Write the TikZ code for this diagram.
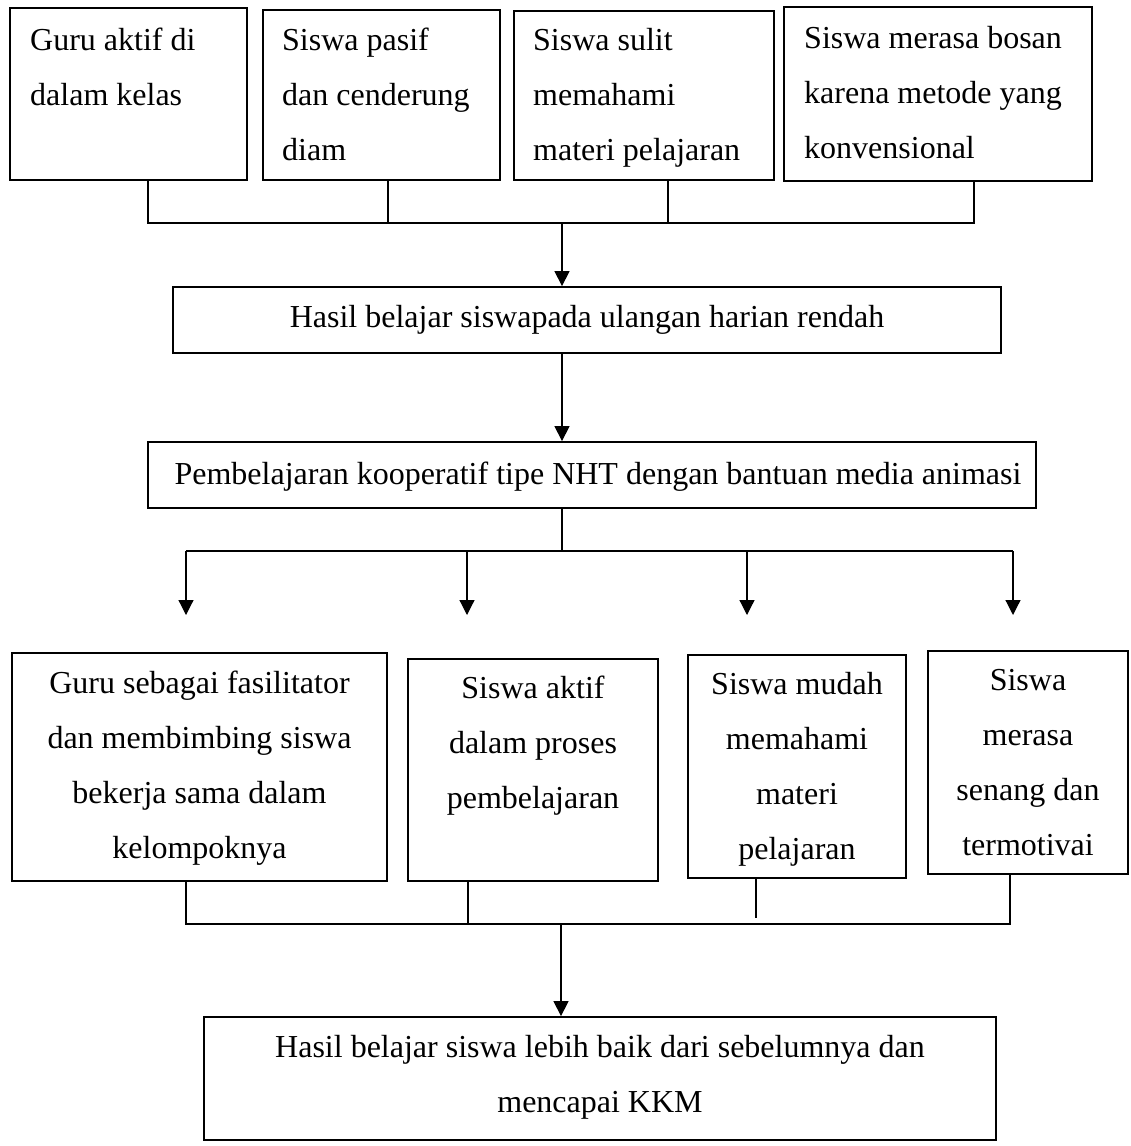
\documentclass[tikz,border=0pt]{standalone}
\usepackage{fontspec}
\setmainfont{Liberation Serif}
\usetikzlibrary{arrows.meta}
\newcommand{\Lft}[1]{\begin{tabular}[t]{@{}l@{}}#1\end{tabular}}
\newcommand{\Ctr}[1]{\begin{tabular}[t]{@{}c@{}}#1\end{tabular}}
\begin{document}
\begin{tikzpicture}[x=1pt,y=-1pt,
  box/.style={draw, line width=1.8pt, inner sep=0pt},
  txt/.style={inner sep=0pt, font=\fontsize{32}{55}\selectfont},
  conn/.style={line width=1.2pt},
  arr/.style={line width=1.2pt, -{Triangle[length=15pt,width=15pt]}}]
\useasboundingbox (0,0) rectangle (1130,1146);
% ---- top row
\node[box, minimum width=237, minimum height=172] (b1) at (128.5,94) {};
\node[box, minimum width=237, minimum height=170] (b2) at (381.5,95) {};
\node[box, minimum width=260, minimum height=169] (b3) at (644,95.5) {};
\node[box, minimum width=308, minimum height=174] (b4) at (938,94) {};
\node[txt, anchor=base west] (b1t) at (30,50) {\Lft{Guru aktif di\\dalam kelas}};
\node[txt, anchor=base west] (b2t) at (282,50) {\Lft{Siswa pasif\\dan cenderung\\diam}};
\node[txt, anchor=base west] (b3t) at (533,50) {\Lft{Siswa sulit\\memahami\\materi pelajaran}};
\node[txt, anchor=base west] (b4t) at (804,48) {\Lft{Siswa merasa bosan\\karena metode yang\\konvensional}};
\coordinate (c1) at (148,180);
\coordinate (c2) at (388,180);
\coordinate (c3) at (668,180);
\coordinate (c4) at (974,181);
\coordinate (h1) at (0,223);
\coordinate (j1) at (562,223);
\draw[conn] (c1) -- (c1 |- h1) -- (c4 |- h1) -- (c4);
\draw[conn] (c2) -- (c2 |- h1);
\draw[conn] (c3) -- (c3 |- h1);
% ---- middle
\node[box, minimum width=828, minimum height=66] (b5) at (587,320) {};
\node[txt, anchor=base] (b5t) at (587,327) {Hasil belajar siswapada ulangan harian rendah};
\draw[arr] (j1) -- (j1 |- b5.north);
\node[box, minimum width=888, minimum height=66] (b6) at (592,475) {};
\node[txt, anchor=base] (b6t) at (598,484) {Pembelajaran kooperatif tipe NHT dengan bantuan media animasi};
\draw[arr] (b5.south -| j1) -- (b6.north -| j1);
% ---- split
\coordinate (h2) at (0,551);
\coordinate (d1) at (186,551);
\coordinate (d2) at (467,551);
\coordinate (d3) at (747,551);
\coordinate (d4) at (1013,551);
\coordinate (t1) at (186,615);
\coordinate (t2) at (467,615);
\coordinate (t3) at (747,615);
\coordinate (t4) at (1013,615);
\draw[conn] (b6.south -| j1) -- (j1 |- h2);
\draw[conn] (d1) -- (d4);
\draw[arr] (d1) -- (t1);
\draw[arr] (d2) -- (t2);
\draw[arr] (d3) -- (t3);
\draw[arr] (d4) -- (t4);
% ---- bottom row
\node[box, minimum width=375, minimum height=228] (b7) at (199.5,767) {};
\node[box, minimum width=250, minimum height=222] (b8) at (533,770) {};
\node[box, minimum width=218, minimum height=223] (b9) at (797,766.5) {};
\node[box, minimum width=200, minimum height=223] (b10) at (1028,762.5) {};
\node[txt, anchor=base] (b7t) at (199.5,693) {\Ctr{Guru sebagai fasilitator\\dan membimbing siswa\\bekerja sama dalam\\kelompoknya}};
\node[txt, anchor=base] (b8t) at (533,698) {\Ctr{Siswa aktif\\dalam proses\\pembelajaran}};
\node[txt, anchor=base] (b9t) at (797,694) {\Ctr{Siswa mudah\\memahami\\materi\\pelajaran}};
\node[txt, anchor=base] (b10t) at (1028,690) {\Ctr{Siswa\\merasa\\senang dan\\termotivai}};
\coordinate (e1) at (186,881);
\coordinate (e2) at (468,881);
\coordinate (e3) at (756,878);
\coordinate (e4) at (1010,874);
\coordinate (h3) at (0,924);
\coordinate (j3) at (561,924);
\draw[conn] (e1) -- (e1 |- h3) -- (e4 |- h3) -- (e4);
\draw[conn] (e2) -- (e2 |- h3);
\draw[conn] (e3) -- (756,918);
\node[box, minimum width=792, minimum height=123] (b11) at (600,1078.5) {};
\node[txt, anchor=base] (b11t) at (600,1057) {\Ctr{Hasil belajar siswa lebih baik dari sebelumnya dan\\mencapai KKM}};
\draw[arr] (j3) -- (j3 |- b11.north);
\end{tikzpicture}
\end{document}
